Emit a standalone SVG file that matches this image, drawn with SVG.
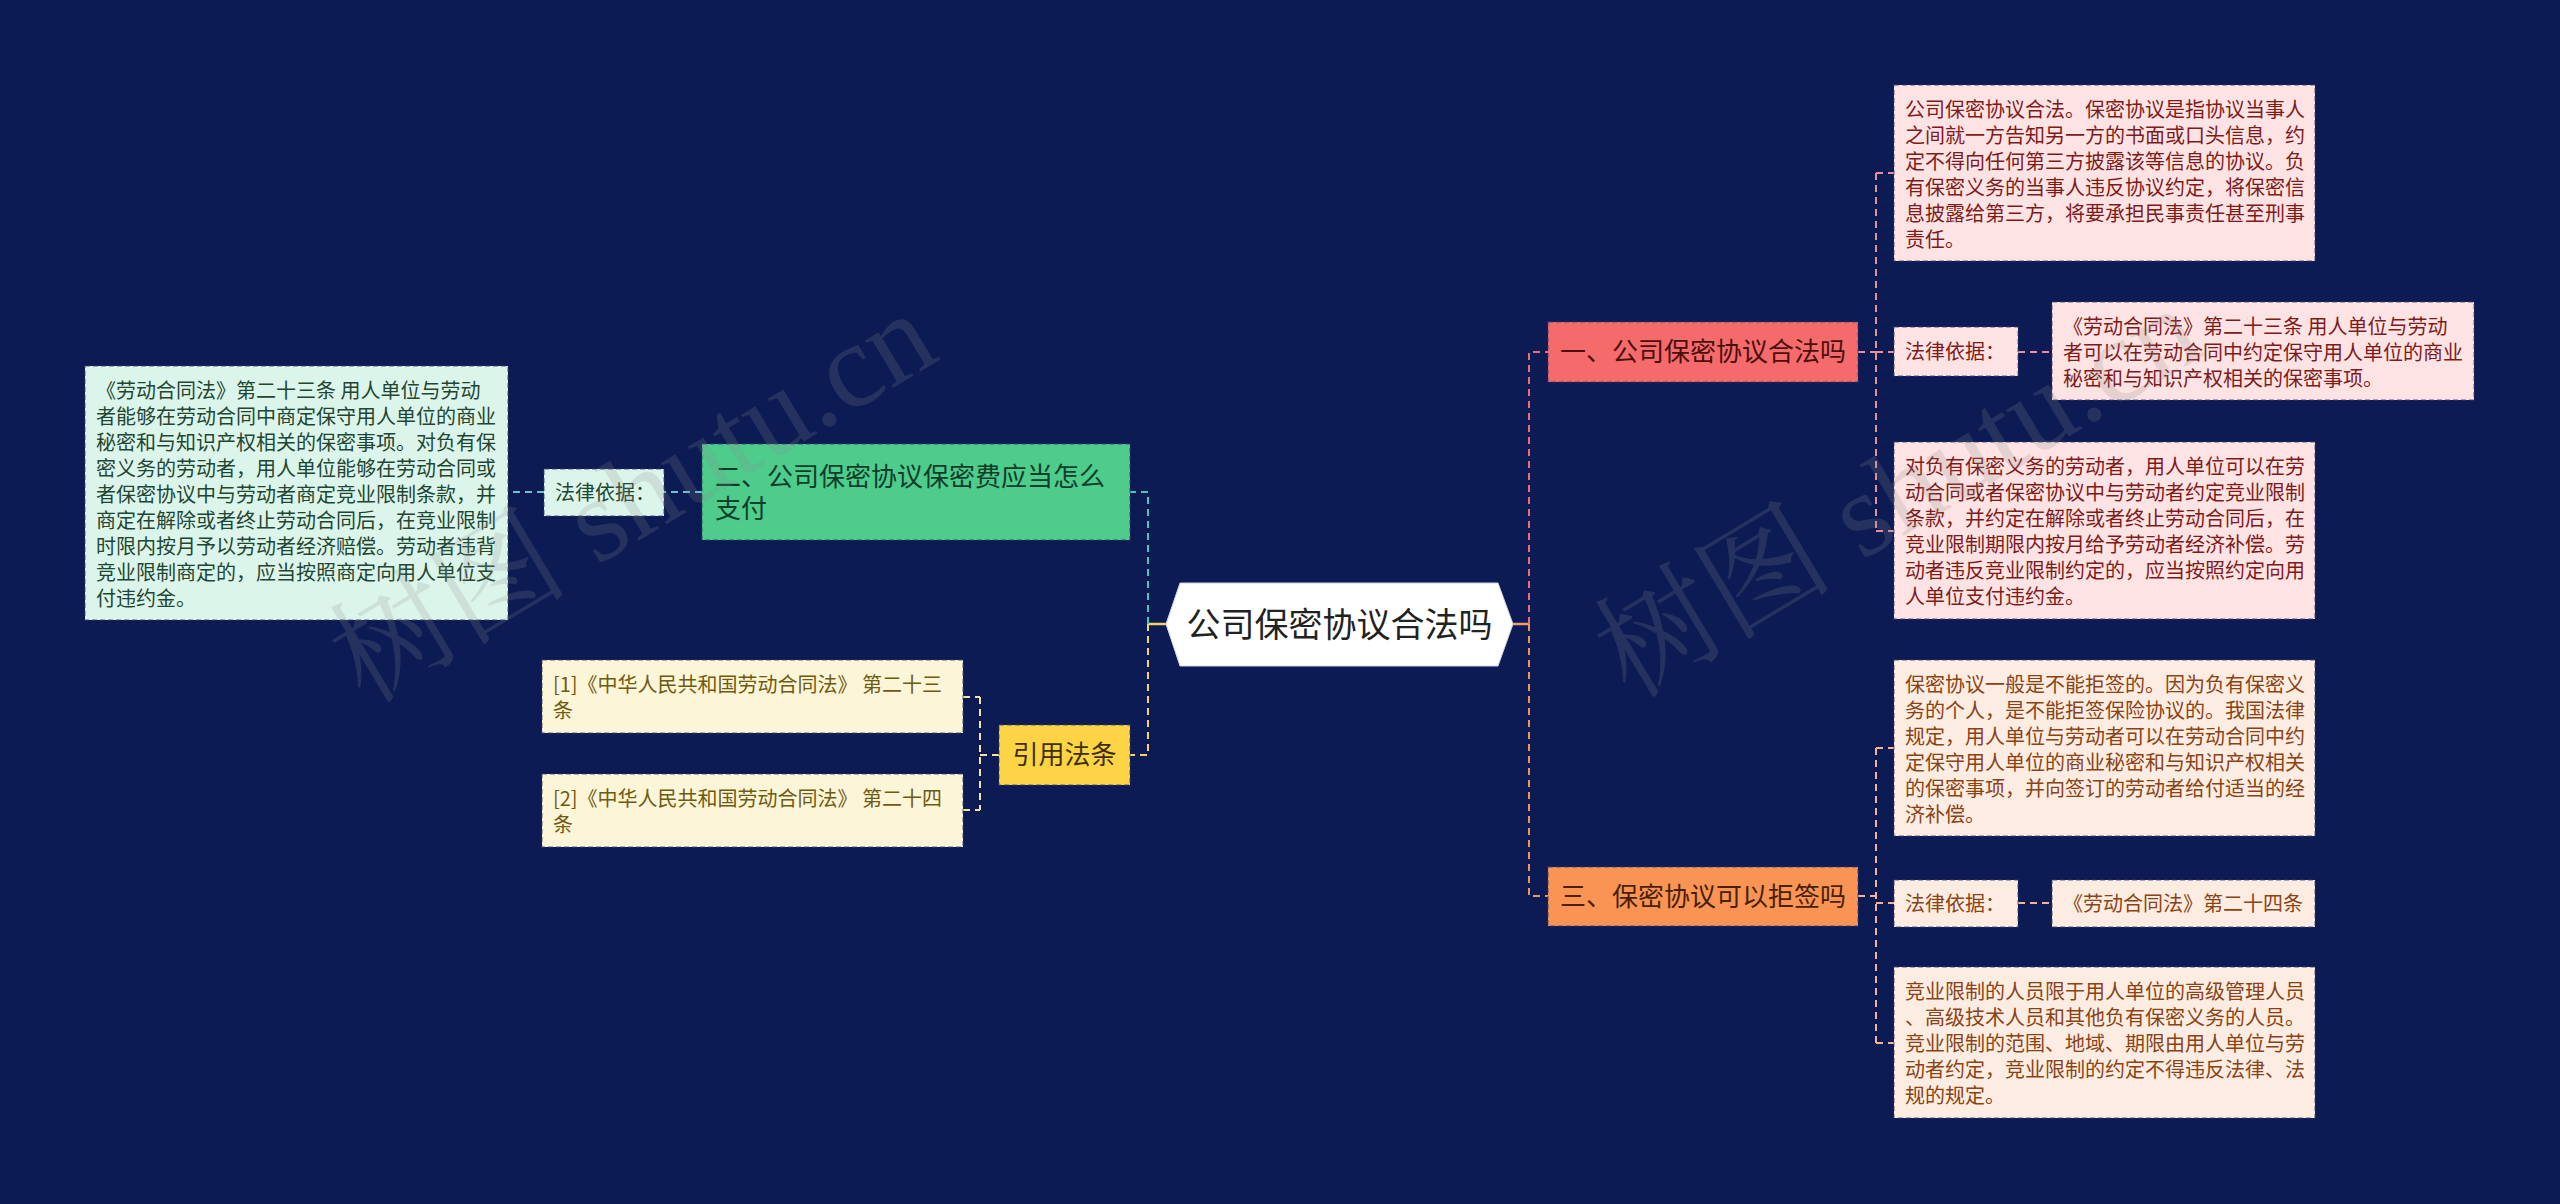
<svg xmlns="http://www.w3.org/2000/svg" width="2560" height="1204" viewBox="0 0 2560 1204">
<style>
text{font-family:"Noto Sans CJK SC","Noto Sans",sans-serif;}
.box{stroke:#3a4068;stroke-opacity:.55;stroke-width:1.5;stroke-dasharray:5 3;}
.s{font-size:20px;}
.b{font-size:26px;}
.pk{fill:#fde3e3;} .pkt{fill:#7d1b1b;}
.pc{fill:#fdece2;} .pct{fill:#8a4314;}
.gl{fill:#dcf5ea;} .glt{fill:#1e4632;}
.yl{fill:#fdf5d8;} .ylt{fill:#6e5a10;}
.c{fill:none;stroke-width:2;stroke-dasharray:7 5;}
.wm{font-family:"Liberation Serif","Noto Serif CJK SC",serif;font-size:120px;fill:#8a8a8a;fill-opacity:.2;}
</style>
<rect width="2560" height="1204" fill="#0c1b54"/>

<g id="connectors">
  <path d="M1166 624H1148" stroke="#f5d36a" stroke-width="2.5" fill="none"/>
  <path d="M1513 624H1529" stroke="#f39a72" stroke-width="2.5" fill="none"/>
  <path class="c" stroke="#4fc6b0" d="M1148 624V492H1130"/>
  <path class="c" stroke="#f5d36a" d="M1148 624V755H1130"/>
  <path class="c" stroke="#6cc3c8" d="M702 492H664"/>
  <path class="c" stroke="#6cc3c8" d="M544 492H508"/>
  <path class="c" stroke="#f3e3a8" d="M999 755H980M980 697V810M963 697H980M963 810H980"/>
  <path class="c" stroke="#e86f7a" d="M1529 624V352H1548"/>
  <path class="c" stroke="#f0955e" d="M1529 624V896H1548"/>
  <path class="c" stroke="#e8909a" d="M1858 352H1876M1876 173V531M1876 173H1894M1876 352H1894M1876 531H1894M2018 352H2052"/>
  <path class="c" stroke="#f0b596" d="M1858 896H1876M1876 748V1043M1876 748H1894M1876 903H1894M1876 1043H1894M2018 903H2052"/>
</g>

<g id="center">
  <polygon points="1166,624 1180,583 1498,583 1513,624 1498,666 1180,666" fill="#ffffff" stroke="#d0d4e0" stroke-width="1"/>
  <text x="1339.5" y="637" font-size="34" text-anchor="middle" fill="#222222">公司保密协议合法吗</text>
</g>

<g id="branch1">
  <rect class="box" x="1548" y="322" width="310" height="60" fill="#f56b6b"/>
  <text class="b" x="1703" y="361" text-anchor="middle" fill="#4a0e0e">一、公司保密协议合法吗</text>
</g>
<g id="branch3">
  <rect class="box" x="1548" y="867" width="310" height="59" fill="#f99455"/>
  <text class="b" x="1703" y="906" text-anchor="middle" fill="#4a1f05">三、保密协议可以拒签吗</text>
</g>
<g id="branch2">
  <rect class="box" x="702" y="444" width="428" height="96" fill="#4dcc8c"/>
  <text class="b" fill="#0e3d2a"><tspan x="715" y="486">二、公司保密协议保密费应当怎么</tspan><tspan x="715" y="518">支付</tspan></text>
</g>
<g id="branch4">
  <rect class="box" x="999" y="725" width="131" height="60" fill="#fdd446"/>
  <text class="b" x="1064.5" y="764" text-anchor="middle" fill="#3d3000">引用法条</text>
</g>

<g id="r1-desc">
  <rect class="box pk" x="1894" y="85" width="421" height="176"/>
  <text class="s pkt"><tspan x="1905" y="117">公司保密协议合法。保密协议是指协议当事人</tspan><tspan x="1905" y="143">之间就一方告知另一方的书面或口头信息，约</tspan><tspan x="1905" y="169">定不得向任何第三方披露该等信息的协议。负</tspan><tspan x="1905" y="195">有保密义务的当事人违反协议约定，将保密信</tspan><tspan x="1905" y="221">息披露给第三方，将要承担民事责任甚至刑事</tspan><tspan x="1905" y="247">责任。</tspan></text>
</g>
<g id="r1-basis">
  <rect class="box pk" x="1894" y="327" width="124" height="49"/>
  <text class="s pkt" x="1905" y="359">法律依据：</text>
</g>
<g id="r1-law">
  <rect class="box pk" x="2052" y="302" width="422" height="98"/>
  <text class="s pkt"><tspan x="2063" y="334">《劳动合同法》第二十三条 用人单位与劳动</tspan><tspan x="2063" y="360">者可以在劳动合同中约定保守用人单位的商业</tspan><tspan x="2063" y="386">秘密和与知识产权相关的保密事项。</tspan></text>
</g>
<g id="r1-comp">
  <rect class="box pk" x="1894" y="442" width="421" height="177"/>
  <text class="s pkt"><tspan x="1905" y="474">对负有保密义务的劳动者，用人单位可以在劳</tspan><tspan x="1905" y="500">动合同或者保密协议中与劳动者约定竞业限制</tspan><tspan x="1905" y="526">条款，并约定在解除或者终止劳动合同后，在</tspan><tspan x="1905" y="552">竞业限制期限内按月给予劳动者经济补偿。劳</tspan><tspan x="1905" y="578">动者违反竞业限制约定的，应当按照约定向用</tspan><tspan x="1905" y="604">人单位支付违约金。</tspan></text>
</g>

<g id="r3-desc">
  <rect class="box pc" x="1894" y="660" width="421" height="176"/>
  <text class="s pct"><tspan x="1905" y="692">保密协议一般是不能拒签的。因为负有保密义</tspan><tspan x="1905" y="718">务的个人，是不能拒签保险协议的。我国法律</tspan><tspan x="1905" y="744">规定，用人单位与劳动者可以在劳动合同中约</tspan><tspan x="1905" y="770">定保守用人单位的商业秘密和与知识产权相关</tspan><tspan x="1905" y="796">的保密事项，并向签订的劳动者给付适当的经</tspan><tspan x="1905" y="822">济补偿。</tspan></text>
</g>
<g id="r3-basis">
  <rect class="box pc" x="1894" y="880" width="124" height="47"/>
  <text class="s pct" x="1905" y="911">法律依据：</text>
</g>
<g id="r3-law">
  <rect class="box pc" x="2052" y="880" width="263" height="47"/>
  <text class="s pct" x="2063" y="911">《劳动合同法》第二十四条</text>
</g>
<g id="r3-limit">
  <rect class="box pc" x="1894" y="967" width="421" height="151"/>
  <text class="s pct"><tspan x="1905" y="999">竞业限制的人员限于用人单位的高级管理人员</tspan><tspan x="1905" y="1025">、高级技术人员和其他负有保密义务的人员。</tspan><tspan x="1905" y="1051">竞业限制的范围、地域、期限由用人单位与劳</tspan><tspan x="1905" y="1077">动者约定，竞业限制的约定不得违反法律、法</tspan><tspan x="1905" y="1103">规的规定。</tspan></text>
</g>

<g id="l2-basis">
  <rect class="box gl" x="544" y="469" width="120" height="47"/>
  <text class="s glt" x="555" y="500">法律依据：</text>
</g>
<g id="l2-law">
  <rect class="box gl" x="85" y="366" width="423" height="254"/>
  <text class="s glt"><tspan x="96" y="398">《劳动合同法》第二十三条 用人单位与劳动</tspan><tspan x="96" y="424">者能够在劳动合同中商定保守用人单位的商业</tspan><tspan x="96" y="450">秘密和与知识产权相关的保密事项。对负有保</tspan><tspan x="96" y="476">密义务的劳动者，用人单位能够在劳动合同或</tspan><tspan x="96" y="502">者保密协议中与劳动者商定竞业限制条款，并</tspan><tspan x="96" y="528">商定在解除或者终止劳动合同后，在竞业限制</tspan><tspan x="96" y="554">时限内按月予以劳动者经济赔偿。劳动者违背</tspan><tspan x="96" y="580">竞业限制商定的，应当按照商定向用人单位支</tspan><tspan x="96" y="606">付违约金。</tspan></text>
</g>

<g id="ref1">
  <rect class="box yl" x="542" y="660" width="421" height="73"/>
  <text class="s ylt"><tspan x="553" y="692">[1]《中华人民共和国劳动合同法》 第二十三</tspan><tspan x="553" y="718">条</tspan></text>
</g>
<g id="ref2">
  <rect class="box yl" x="542" y="774" width="421" height="73"/>
  <text class="s ylt"><tspan x="553" y="806">[2]《中华人民共和国劳动合同法》 第二十四</tspan><tspan x="553" y="832">条</tspan></text>
</g>

<g id="watermark">
  <text class="wm" transform="translate(365 705) rotate(-31)">树图 shutu.cn</text>
  <text class="wm" transform="translate(1630 700) rotate(-31)">树图 shutu.cn</text>
</g>
</svg>
